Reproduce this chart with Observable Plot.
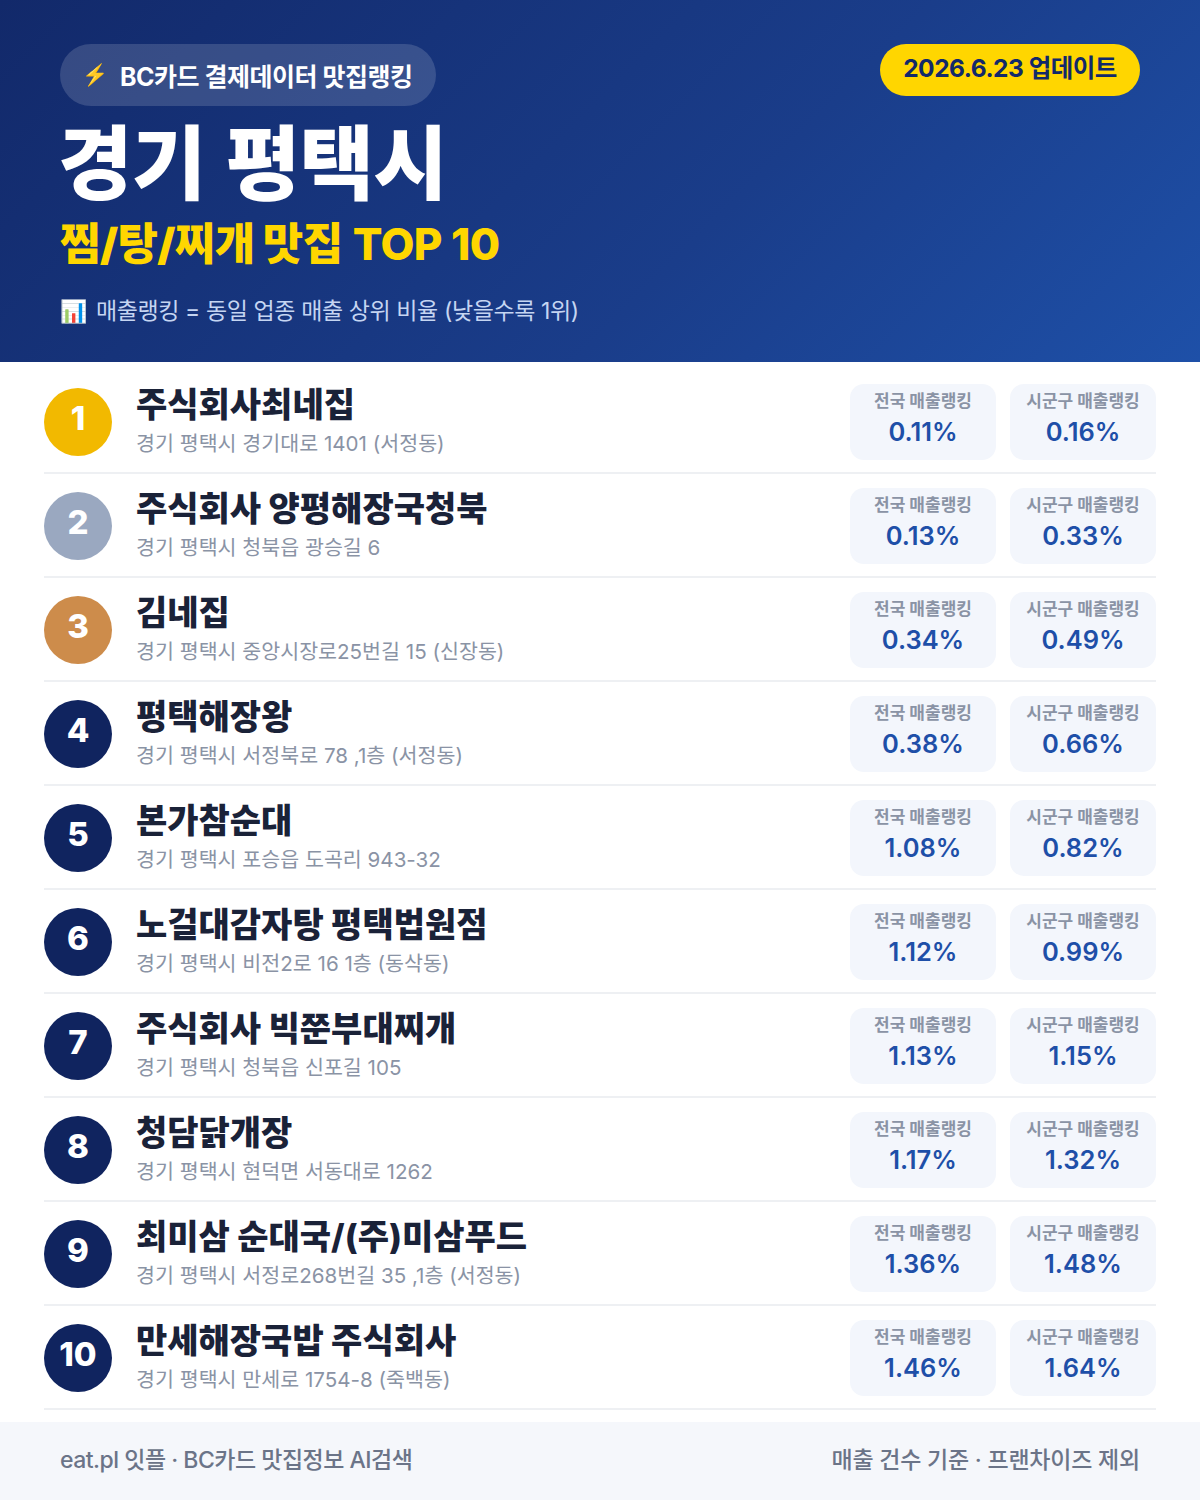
<!DOCTYPE html>
<html lang="ko">
<head>
<meta charset="utf-8">
<script src="https://cdn.jsdelivr.net/npm/d3@7"></script>
<script src="https://cdn.jsdelivr.net/npm/@observablehq/plot@0.6"></script>
<style>
  html,body{margin:0;padding:0;background:#fff;}
  body{width:1200px;font-family:Inter,"Noto Sans CJK KR","Noto Sans",sans-serif;}
  #head{position:relative;height:362px;overflow:hidden;background:linear-gradient(135deg,#12296a 0%,#1a3d8a 60%,#1e50a8 100%);}
  #head>*{position:absolute;white-space:nowrap;}
  #pill{left:60px;top:44px;width:376px;height:62px;border-radius:31px;background:rgba(255,255,255,.15);}
  #bolt{left:82px;top:45px;line-height:60px;font-size:21px;}
  #pilltxt{left:120px;top:46px;height:62px;line-height:62px;font-size:25px;font-weight:700;color:#fff;letter-spacing:-.5px;}
  #date{left:880px;top:44px;width:260px;height:52px;border-radius:26px;background:#ffd600;color:#12296a;font-size:24.5px;font-weight:700;line-height:49px;text-align:center;letter-spacing:-.5px;}
  #title{left:58px;top:109px;font-size:81px;line-height:110px;font-weight:900;color:#fff;letter-spacing:-.8px;word-spacing:5px;}
  #sub{left:60px;top:212px;font-size:44px;line-height:64px;font-weight:900;color:#ffd600;letter-spacing:-.6px;}
  #sub span{font-weight:800;letter-spacing:-.6px;margin-left:2px;}
  #chartico{left:60px;top:292px;font-size:22px;line-height:38px;}
  #note{left:96px;top:293px;font-size:23px;line-height:36px;font-weight:400;color:#c5d5f2;letter-spacing:-.4px;}
  #foot{height:72px;padding:0 60px 6px;background:#f5f7fb;display:flex;justify-content:space-between;align-items:center;color:#6b7488;font-size:23px;font-weight:500;}
  #foot .l{letter-spacing:-.5px;}
  #foot .r{letter-spacing:-.22px;}
  #chart svg{display:block;}
  g[aria-label="addresses"] text{letter-spacing:-.3px;}
  g[aria-label="national values"] text,g[aria-label="district values"] text{letter-spacing:-.7px;}
</style>
</head>
<body>
<div id="head">
  <div id="pill"></div>
  <div id="bolt">⚡</div>
  <div id="pilltxt">BC카드 결제데이터 맛집랭킹</div>
  <div id="date">2026.6.23 업데이트</div>
  <div id="title">경기 평택시</div>
  <div id="sub">찜/탕/찌개 맛집 <span>TOP 10</span></div>
  <div id="chartico">📊</div>
  <div id="note">매출랭킹 = 동일 업종 매출 상위 비율 (낮을수록 1위)</div>
</div>
<div id="chart"></div>
<div id="foot"><span class="l">eat.pl 잇플 · BC카드 맛집정보 AI검색</span><span class="r">매출 건수 기준 · 프랜차이즈 제외</span></div>
<script>
const ranks = [1,2,3,4,5,6,7,8,9,10];
const names = ["주식회사최네집","주식회사 양평해장국청북","김네집","평택해장왕","본가참순대","노걸대감자탕 평택법원점","주식회사 빅쭌부대찌개","청담닭개장","최미삼 순대국/(주)미삼푸드","만세해장국밥 주식회사"];
const addresses = ["경기 평택시 경기대로 1401 (서정동)","경기 평택시 청북읍 광승길 6","경기 평택시 중앙시장로25번길 15 (신장동)","경기 평택시 서정북로 78 ,1층 (서정동)","경기 평택시 포승읍 도곡리 943-32","경기 평택시 비전2로 16 1층 (동삭동)","경기 평택시 청북읍 신포길 105","경기 평택시 현덕면 서동대로 1262","경기 평택시 서정로268번길 35 ,1층 (서정동)","경기 평택시 만세로 1754-8 (죽백동)"];
const national = ["0.11%","0.13%","0.34%","0.38%","1.08%","1.12%","1.13%","1.17%","1.36%","1.46%"];
const district = ["0.16%","0.33%","0.49%","0.66%","0.82%","0.99%","1.15%","1.32%","1.48%","1.64%"];
const labelNational = "전국 매출랭킹";
const labelDistrict = "시군구 매출랭킹";
const badgeColors = ["#f2b900","#9aa8c0","#cd8c4b","#10245f","#10245f","#10245f","#10245f","#10245f","#10245f","#10245f"];

const rows = ranks.map((r,i)=>({rank:r,name:names[i],address:addresses[i],national:national[i],district:district[i],color:badgeColors[i]}));
const font = 'Inter,"Noto Sans CJK KR","Noto Sans",sans-serif';

const card = (x1,x2) => Plot.barX(rows,{x1:()=>x1,x2:()=>x2,y:"rank",fill:"#f3f6fc",rx:14,insetTop:14,insetBottom:14});
const cardText = (x,value,dy,size,weight,color,label) => Plot.text(rows,{x:()=>x,y:"rank",text:value,dy,fontSize:size,fontWeight:weight,fill:color,fontFamily:font,ariaLabel:label});

const plot = Plot.plot({
  width:1200,height:1060,margin:0,
  style:{background:"transparent",fontFamily:font},
  x:{type:"linear",domain:[0,1200],range:[0,1200],axis:null},
  y:{type:"band",domain:ranks,range:[8,1048],padding:0,axis:null},
  marks:[
    Plot.barX(rows,{x1:()=>44,x2:()=>1156,y:"rank",fill:"#eef0f3",insetTop:102,ariaLabel:"separators"}),
    Plot.dot(rows,{x:()=>77.5,y:"rank",r:34,dy:-.5,fill:"color",stroke:null,ariaLabel:"badges"}),
    Plot.text(rows,{x:()=>77.5,y:"rank",text:d=>String(d.rank),dy:-3,fontSize:33,fontWeight:800,fill:"#fff",fontFamily:font,ariaLabel:"rank numbers"}),
    Plot.text(rows,{x:()=>135.5,y:"rank",text:"name",dy:-16,textAnchor:"start",fontSize:34,fontWeight:800,fill:"#1a2238",fontFamily:font,ariaLabel:"names"}),
    Plot.text(rows,{x:()=>135.5,y:"rank",text:"address",dy:22,textAnchor:"start",fontSize:20.6,fontWeight:400,fill:"#8a93a5",fontFamily:font,ariaLabel:"addresses"}),
    card(850,996),
    card(1010,1156),
    cardText(922.5,()=>labelNational,-20.5,17,700,"#8a93a5","national labels"),
    cardText(1082.5,()=>labelDistrict,-20.5,17,700,"#8a93a5","district labels"),
    cardText(922.5,"national",10,25.5,600,"#1e4fa8","national values"),
    cardText(1082.5,"district",10,25.5,600,"#1e4fa8","district values")
  ]
});
document.getElementById("chart").append(plot);
</script>
</body>
</html>
